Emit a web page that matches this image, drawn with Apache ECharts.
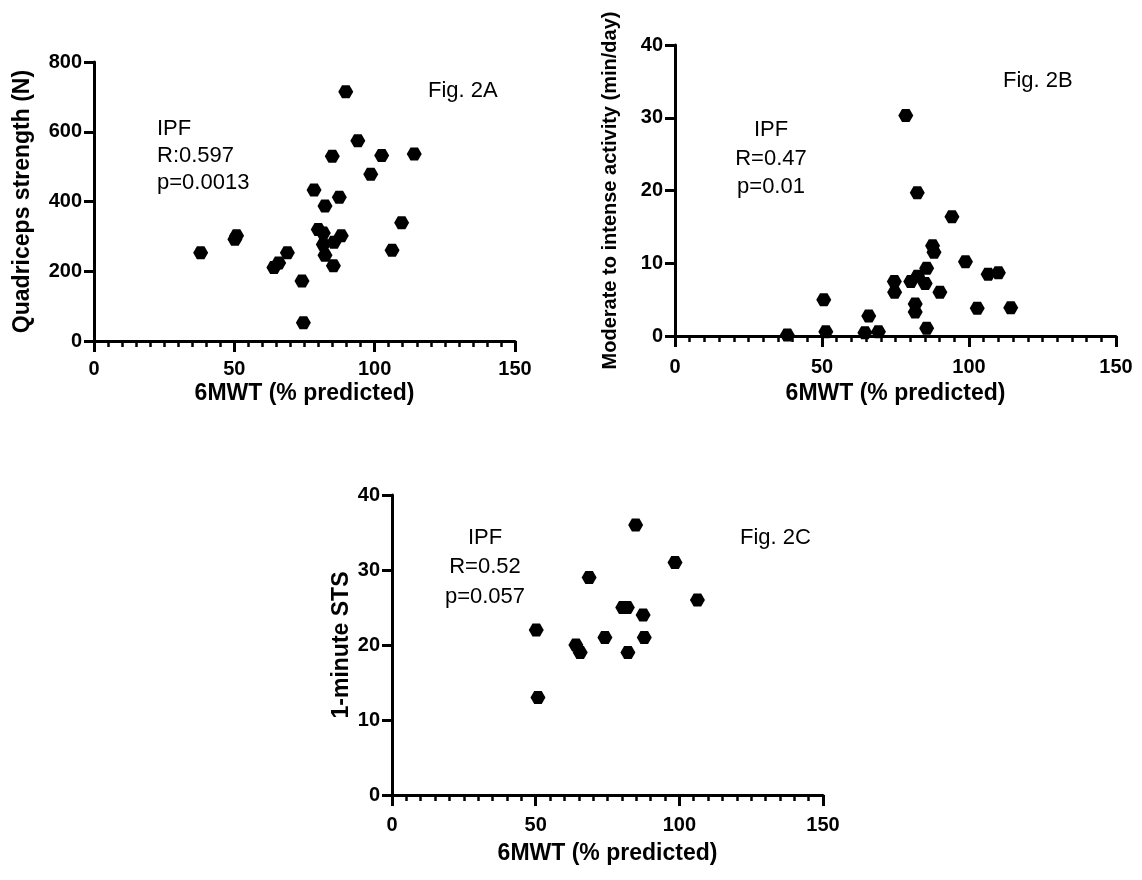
<!DOCTYPE html>
<html>
<head>
<meta charset="utf-8">
<script src="https://cdn.jsdelivr.net/npm/echarts@6/dist/echarts.min.js"></script>
<style>
html,body{margin:0;padding:0;background:#fff;}
#c{width:1142px;height:880px;}
</style>
</head>
<body>
<div id="c"></div>
<script>
// Fig. 2A: 6MWT (% predicted) vs Quadriceps strength (N)
const pwtA  = [89.7, 94.0, 84.9, 102.5, 114.1, 98.6, 78.4, 87.4, 82.3, 109.6, 79.9, 81.7, 88.1, 85.5, 81.7, 50.8, 50.2, 38.0, 68.9, 65.8, 64.1, 82.3, 85.3, 106.2, 74.1, 74.6];
const quadA = [715, 574, 530, 532, 536, 478, 433, 412, 387, 339, 320, 310, 302, 283, 277, 302, 292, 253, 253, 224, 211, 246, 216, 260, 172, 52];
// Fig. 2B: 6MWT (% predicted) vs Moderate to intense activity (min/day)
const pwtB  = [78.5, 82.4, 94.2, 87.6, 88.1, 98.8, 85.6, 106.5, 110.0, 82.5, 80.2, 74.6, 85.1, 74.7, 90.1, 50.6, 81.7, 81.7, 102.8, 114.2, 65.9, 85.6, 38.2, 51.3, 64.6, 69.2];
const mvpaB = [30.3, 19.7, 16.4, 12.4, 11.5, 10.2, 9.3, 8.5, 8.7, 8.2, 7.5, 7.5, 7.2, 6.0, 6.0, 5.0, 4.4, 3.3, 3.8, 3.9, 2.75, 1.05, 0.15, 0.6, 0.45, 0.6];
// Fig. 2C: 6MWT (% predicted) vs 1-minute STS
const pwtC  = [84.8, 98.5, 68.6, 106.3, 80.3, 81.9, 87.4, 50.2, 74.1, 87.8, 64.0, 65.5, 82.1, 50.8];
const stsC  = [36, 31, 29, 26, 25, 25, 24, 22, 21, 21, 20, 19, 19, 13];

const xTicks = [0, 50, 100, 150];
const yTicksA = [0, 200, 400, 600, 800];
const yTicksB = [0, 10, 20, 30, 40];
const yTicksC = [0, 10, 20, 30, 40];

const FONT = 'Liberation Sans, Arial, Helvetica, sans-serif';
const hex = 'path://M-1,0 L-0.5,-0.866 L0.5,-0.866 L1,0 L0.5,0.866 L-0.5,0.866 Z';

function pairs(xs, ys){ return xs.map((x,i)=>[x, ys[i]]); }

function xAxis(gi, margin, nameGap){
  return {
    gridIndex: gi, type:'value', min: xTicks[0], max: xTicks[xTicks.length-1], interval: 50,
    name: '6MWT (% predicted)', nameLocation:'middle', nameGap: nameGap,
    nameTextStyle:{fontFamily:FONT, fontWeight:'bold', fontSize:23, color:'#000'},
    axisLine:{show:true, onZero:false, lineStyle:{color:'#000', width:3}},
    axisTick:{show:true, inside:false, length:11, lineStyle:{color:'#000', width:3}},
    minorTick:{show:true, splitNumber:10, length:6, lineStyle:{color:'#000', width:2.5}},
    axisLabel:{fontFamily:FONT, fontWeight:'bold', fontSize:20, color:'#000', margin: margin},
    splitLine:{show:false}, minorSplitLine:{show:false}
  };
}
function yAxis(gi, ticks, name, nameSize, nameGap){
  return {
    gridIndex: gi, type:'value', min: ticks[0], max: ticks[ticks.length-1], interval: ticks[1]-ticks[0],
    name: name, nameLocation:'middle', nameGap: nameGap, nameRotate: 90,
    nameTextStyle:{fontFamily:FONT, fontWeight:'bold', fontSize:nameSize, color:'#000'},
    axisLine:{show:true, onZero:false, lineStyle:{color:'#000', width:3}},
    axisTick:{show:true, inside:false, length:10, lineStyle:{color:'#000', width:3}},
    axisLabel:{fontFamily:FONT, fontWeight:'bold', fontSize:20, color:'#000', margin: 12},
    splitLine:{show:false}
  };
}
function series(i, xs, ys){
  return {
    type:'scatter', xAxisIndex:i, yAxisIndex:i, data: pairs(xs, ys),
    symbol: hex, symbolSize:[15, 13], itemStyle:{color:'#000', opacity:1},
    emphasis:{disabled:true}, silent:true
  };
}
function txt(text, x, y, align, lh){
  return {type:'text', x:x, y:y, silent:true, style:{text:text, fill:'#000', font:'22px ' + FONT, textAlign:align, textVerticalAlign:'top', lineHeight:lh}};
}

const chart = echarts.init(document.getElementById('c'), null, {renderer:'canvas'});
chart.setOption({
  animation:false,
  backgroundColor:'#fff',
  grid:[
    {left:94, top:62, width:421, height:279},
    {left:675, top:45, width:441, height:291},
    {left:392, top:495, width:431, height:300}
  ],
  xAxis:[xAxis(0, 18, 41), xAxis(1, 21, 46), xAxis(2, 20, 47)],
  yAxis:[
    yAxis(0, yTicksA, 'Quadriceps strength (N)', 23, 60),
    yAxis(1, yTicksB, 'Moderate to intense activity (min/day)', 20, 55),
    yAxis(2, yTicksC, '1-minute STS', 23, 39)
  ],
  series:[series(0, pwtA, quadA), series(1, pwtB, mvpaB), series(2, pwtC, stsC)],
  graphic:[
    txt('IPF\nR:0.597\np=0.0013', 157, 115, 'left', 27),
    txt('Fig. 2A', 428, 78, 'left', 26),
    txt('IPF\nR=0.47\np=0.01', 771, 116, 'center', 28.5),
    txt('Fig. 2B', 1003, 68, 'left', 26),
    txt('IPF\nR=0.52\np=0.057', 485, 523, 'center', 29.5),
    txt('Fig. 2C', 740, 525, 'left', 26)
  ]
});
</script>
</body>
</html>
